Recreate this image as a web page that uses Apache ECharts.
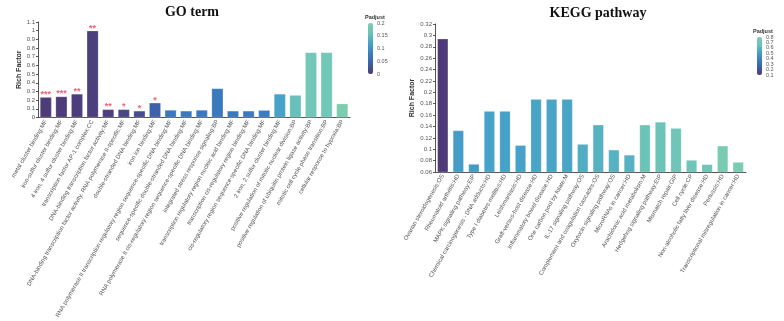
<!DOCTYPE html>
<html>
<head>
<meta charset="utf-8">
<script src="https://cdn.jsdelivr.net/npm/echarts@6/dist/echarts.min.js"></script>
<style>html,body{margin:0;padding:0;background:#fff}#c{width:784px;height:321px}</style>
</head>
<body>
<div id="c"></div>
<script>
const goCategories = [
  'metal cluster binding:MF',
  'iron-sulfur cluster binding:MF',
  '4 iron, 4 sulfur cluster binding:MF',
  'transcription factor AP-1 complex:CC',
  'DNA-binding transcription factor activity:MF',
  'DNA-binding transcription factor activity, RNA polymerase II-specific:MF',
  'double-stranded DNA binding:MF',
  'iron ion binding:MF',
  'RNA polymerase II transcription regulatory region sequence-specific DNA binding:MF',
  'sequence-specific double-stranded DNA binding:MF',
  'RNA polymerase II cis-regulatory region sequence-specific DNA binding:MF',
  'integrated stress response signaling:BP',
  'transcription regulatory region nucleic acid binding:MF',
  'transcription cis-regulatory region binding:MF',
  'cis-regulatory region sequence-specific DNA binding:MF',
  '2 iron, 2 sulfur cluster binding:MF',
  'positive regulation of mitotic nuclear division:BP',
  'positive regulation of ubiquitin protein ligase activity:BP',
  'mitotic cell cycle phase transition:BP',
  'cellular response to hypoxia:BP'
];
const goRichFactor = [0.235, 0.242, 0.272, 1.0, 0.094, 0.094, 0.077, 0.17, 0.087, 0.077, 0.087, 0.335, 0.077, 0.077, 0.085, 0.272, 0.258, 0.75, 0.75, 0.16];
const goPadjust = [0.0008, 0.0009, 0.004, 0.005, 0.006, 0.012, 0.02, 0.045, 0.075, 0.075, 0.075, 0.075, 0.078, 0.078, 0.08, 0.12, 0.155, 0.175, 0.175, 0.2];
const goStars = ['***', '***', '**', '**', '**', '*', '*', '*', '', '', '', '', '', '', '', '', '', '', '', ''];
const goLegendLabels = ['0', '0.05', '0.1', '0.15', '0.2'];
const goPadjustRange = [0, 0.2];

const keggCategories = [
  'Ovarian steroidogenesis:OS',
  'Rheumatoid arthritis:HD',
  'MAPK signaling pathway:EIP',
  'Chemical carcinogenesis - DNA adducts:HD',
  'Type I diabetes mellitus:HD',
  'Leishmaniasis:HD',
  'Graft-versus-host disease:HD',
  'Inflammatory bowel disease:HD',
  'One carbon pool by folate:M',
  'IL-17 signaling pathway:OS',
  'Complement and coagulation cascades:OS',
  'Oxytocin signaling pathway:OS',
  'MicroRNAs in cancer:HD',
  'Arachidonic acid metabolism:M',
  'Hedgehog signaling pathway:EIP',
  'Mismatch repair:GIP',
  'Cell cycle:CP',
  'Non-alcoholic fatty liver disease:HD',
  'Pertussis:HD',
  'Transcriptional misregulation in cancer:HD'
];
const keggRichFactor = [0.294, 0.133, 0.074, 0.167, 0.167, 0.107, 0.188, 0.188, 0.188, 0.109, 0.143, 0.099, 0.09, 0.143, 0.148, 0.137, 0.081, 0.0735, 0.106, 0.0775];
const keggPadjust = [0.1, 0.5, 0.5, 0.52, 0.52, 0.52, 0.53, 0.53, 0.53, 0.56, 0.58, 0.58, 0.58, 0.66, 0.66, 0.68, 0.68, 0.68, 0.78, 0.78];
const keggLegendLabels = ['0.1', '0.2', '0.3', '0.4', '0.5', '0.6', '0.7', '0.8'];
const keggPadjustRange = [0.1, 0.8];

const colorStops = ['#4e3a78', '#3d5ea8', '#3a7dc1', '#46a2c8', '#6cc4b9', '#7ccdb0'];
const FONT = 'Liberation Sans, Arial, sans-serif';

const chart = echarts.init(document.getElementById('c'), null, { renderer: 'canvas' });

function barAxisX(gridIndex, cats) {
  return {
    type: 'category', gridIndex, data: cats,
    axisLine: { lineStyle: { color: '#555', width: 1 } },
    axisTick: { alignWithLabel: true, length: 2, lineStyle: { color: '#555' } },
    axisLabel: { interval: 0, rotate: 60, fontSize: 6, color: '#555', margin: 3, fontFamily: FONT }
  };
}
function barAxisY(gridIndex, min, max, interval, gap) {
  return {
    type: 'value', gridIndex, min, max, interval,
    name: 'Rich Factor', nameLocation: 'middle', nameGap: gap,
    nameTextStyle: { fontSize: 7, fontWeight: 'bold', color: '#333', fontFamily: FONT },
    splitLine: { show: false },
    axisLine: { show: true, lineStyle: { color: '#555', width: 1 } },
    axisTick: { show: true, length: 2, lineStyle: { color: '#555' } },
    axisLabel: { fontSize: 6, color: '#555', margin: 3, fontFamily: FONT, showMinLabel: true, showMaxLabel: true, hideOverlap: false }
  };
}
function legendAxisY(gridIndex, labels) {
  return {
    type: 'category', gridIndex, data: labels, boundaryGap: false, position: 'right',
    splitLine: { show: false }, axisLine: { show: false }, axisTick: { show: false },
    axisLabel: { interval: 0, fontSize: 5.5, color: '#555', margin: 4, fontFamily: FONT }
  };
}

const option = {
  backgroundColor: '#fff',
  animation: false,
  title: [
    { text: 'GO term', left: 192, top: 5, padding: 0, textAlign: 'center',
      textStyle: { fontFamily: 'Liberation Serif, Times New Roman, serif', fontWeight: 'bold', fontSize: 14, color: '#111' } },
    { text: 'KEGG pathway', left: 598, top: 6, padding: 0, textAlign: 'center',
      textStyle: { fontFamily: 'Liberation Serif, Times New Roman, serif', fontWeight: 'bold', fontSize: 14, color: '#111' } },
    { text: 'Padjust', left: 365, top: 14, padding: 0, textStyle: { fontSize: 5.5, fontWeight: 'bold', color: '#333', fontFamily: FONT } },
    { text: 'Padjust', left: 753, top: 28, padding: 0, textStyle: { fontSize: 5.5, fontWeight: 'bold', color: '#333', fontFamily: FONT } }
  ],
  grid: [
    { left: 38, top: 22, width: 312, height: 97 },
    { left: 435, top: 24, width: 311, height: 148 },
    { left: 368, top: 23, width: 5, height: 51 },
    { left: 757, top: 37, width: 5, height: 38 }
  ],
  xAxis: [
    barAxisX(0, goCategories),
    barAxisX(1, keggCategories),
    { type: 'value', gridIndex: 2, show: false, min: 0, max: 1 },
    { type: 'value', gridIndex: 3, show: false, min: 0, max: 1 }
  ],
  yAxis: [
    barAxisY(0, 0, 1.1, 0.1, 14),
    barAxisY(1, 0.06, 0.32, 0.02, 19),
    legendAxisY(2, goLegendLabels),
    legendAxisY(3, keggLegendLabels)
  ],
  visualMap: [
    { type: 'continuous', seriesIndex: 0, dimension: 2, min: goPadjustRange[0], max: goPadjustRange[1],
      left: 368, top: 23, itemWidth: 5, itemHeight: 51, padding: 0, calculable: false, hoverLink: false,
      inRange: { color: colorStops } },
    { type: 'continuous', seriesIndex: 1, dimension: 2, min: keggPadjustRange[0], max: keggPadjustRange[1],
      left: 757, top: 37, itemWidth: 5, itemHeight: 38, padding: 0, calculable: false, hoverLink: false,
      inRange: { color: colorStops } }
  ],
  series: [
    { type: 'bar', xAxisIndex: 0, yAxisIndex: 0, barCategoryGap: '25%',
      encode: { x: 0, y: 1 },
      data: goRichFactor.map((v, i) => [i, v, goPadjust[i]]),
      itemStyle: { borderColor: 'rgba(255,255,255,0.35)', borderWidth: 0.6 },
      label: { show: true, position: 'top', distance: -2, color: '#ef5f78', fontSize: 9, fontWeight: 'bold',
        fontFamily: FONT, formatter: p => goStars[p.dataIndex] } },
    { type: 'bar', xAxisIndex: 1, yAxisIndex: 1, barCategoryGap: '30%', clip: true,
      encode: { x: 0, y: 1 },
      data: keggRichFactor.map((v, i) => [i, v, keggPadjust[i]]),
      itemStyle: { borderColor: 'rgba(255,255,255,0.35)', borderWidth: 0.6 } }
  ]
};
chart.setOption(option);
</script>
</body>
</html>
